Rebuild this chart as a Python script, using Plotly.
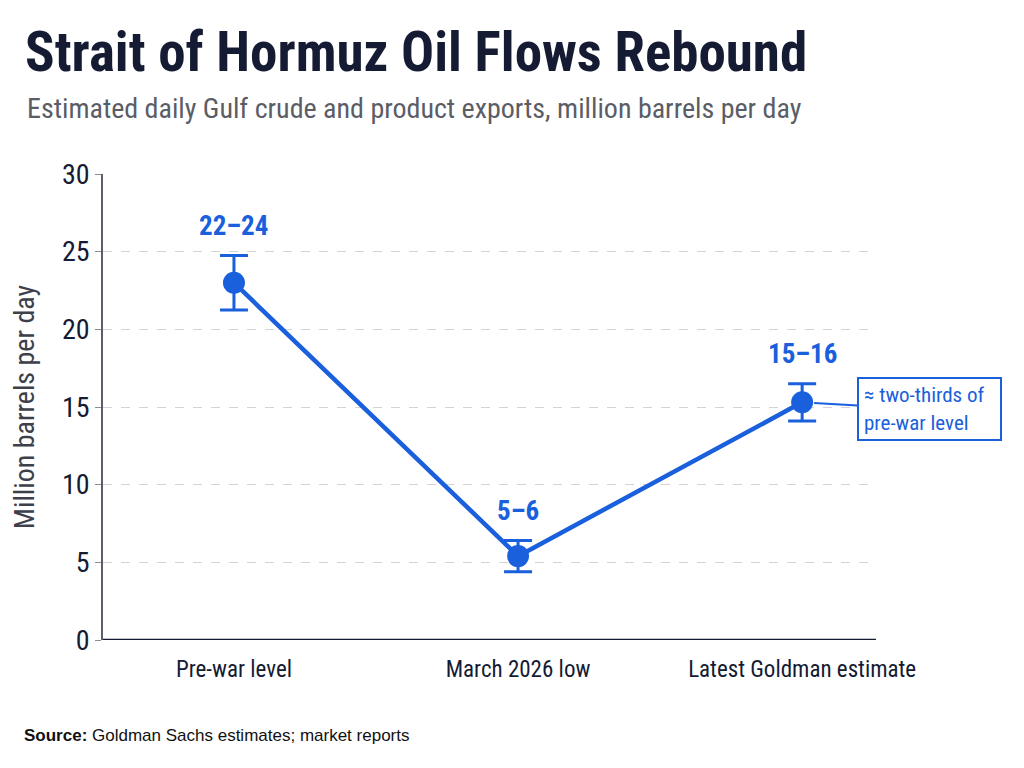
import plotly.graph_objects as go

categories = ["Pre-war level", "March 2026 low", "Latest Goldman estimate"]
mid_values = [23.0, 5.4, 15.3]
err_values = [1.75, 1.0, 1.2]
range_labels = ["22–24", "5–6", "15–16"]
y_ticks = [0, 5, 10, 15, 20, 25, 30]

BLUE = "#1a5fdc"
DARK = "#141b33"
NARROW = "Roboto Condensed, Liberation Sans Narrow, Roboto, sans-serif"

fig = go.Figure()

fig.add_trace(go.Scatter(
    x=categories,
    y=mid_values,
    mode="lines+markers",
    line=dict(color=BLUE, width=4.5),
    marker=dict(color=BLUE, size=22),
    error_y=dict(type="data", array=err_values, visible=True,
                 color=BLUE, thickness=3, width=14),
    cliponaxis=False,
    showlegend=False,
))

# range labels above each error bar
for cat, mid, err, lab in zip(categories, mid_values, err_values, range_labels):
    fig.add_annotation(
        x=cat, y=mid + err, text=f"<b>{lab}</b>", showarrow=False,
        yanchor="bottom", yshift=12,
        font=dict(family=NARROW, size=27, color=BLUE),
    )

# callout on the latest estimate
fig.add_annotation(
    x=categories[2], y=mid_values[2],
    text="≈ two-thirds of<br>pre-war level",
    align="left", width=131, height=50,
    showarrow=True, arrowhead=0, arrowwidth=2, arrowcolor=BLUE,
    ax=127, ay=7, standoff=12,
    bordercolor=BLUE, borderwidth=2, borderpad=5, bgcolor="white",
    font=dict(family=NARROW, size=21, color=BLUE),
)

fig.update_layout(
    width=1024, height=768,
    paper_bgcolor="white", plot_bgcolor="white",
    margin=dict(l=95, r=156, t=166, b=136),
    title=dict(
        text="<b>Strait of Hormuz Oil Flows Rebound</b>",
        x=0.0166, xanchor="left", y=0.943, yanchor="middle",
        font=dict(family=NARROW, size=55, color=DARK),
    ),
    font=dict(family=NARROW, color=DARK),
)

fig.add_annotation(
    xref="paper", yref="paper", x=-0.101, y=1.1416, xanchor="left", yanchor="middle",
    text="Estimated daily Gulf crude and product exports, million barrels per day",
    showarrow=False, font=dict(family=NARROW, size=28, color="#5a5d66"),
)

fig.add_annotation(
    xref="paper", yref="paper", x=-0.1048, y=-0.206, xanchor="left", yanchor="middle",
    text="<b>Source:</b> Goldman Sachs estimates; market reports",
    showarrow=False, font=dict(family="Liberation Sans, Arial, sans-serif", size=17, color="#111111"),
)

fig.update_xaxes(
    range=[-0.461, 2.26],
    showgrid=False, zeroline=False,
    showline=False,
    ticks="", tickfont=dict(family=NARROW, size=23, color=DARK),
    ticklabelstandoff=13,
)

fig.update_yaxes(
    range=[0, 30], tickvals=y_ticks,
    showgrid=True, gridcolor="#d2d2d8", griddash="dash", gridwidth=1,
    zeroline=False,
    showline=True, linecolor="#5c5f6a", linewidth=1.5,
    ticks="outside", ticklen=6, tickcolor="#8a8d96",
    tickfont=dict(family=NARROW, size=28, color=DARK),
    title=dict(text="Million barrels per day",
               font=dict(family=NARROW, size=28, color="#3d404a"), standoff=20),
    automargin=False,
)

# solid baseline at zero
fig.add_shape(type="line", xref="paper", yref="y", x0=0, x1=1, y0=0, y1=0,
              line=dict(color=DARK, width=2.5))

fig.write_html("out.html")
